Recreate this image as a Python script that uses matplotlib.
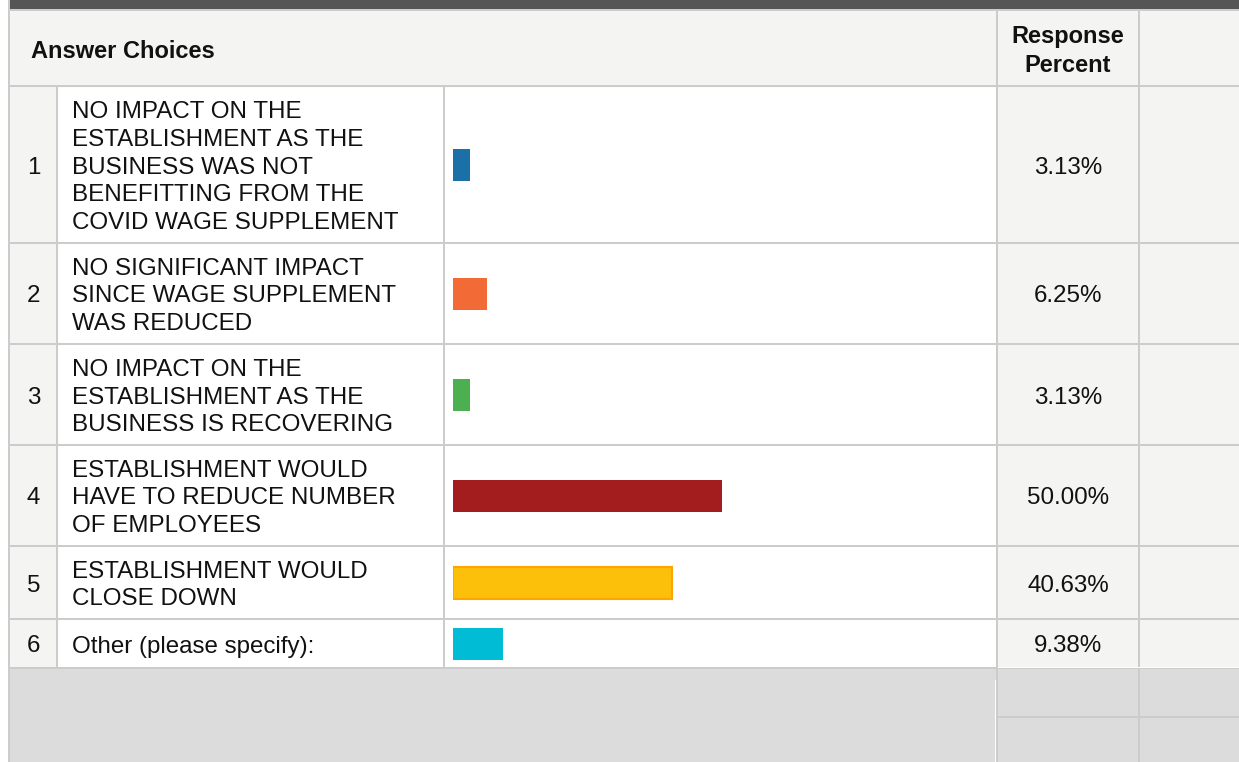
import matplotlib
matplotlib.use("Agg")
import matplotlib.pyplot as plt
from matplotlib.patches import Rectangle

choices = [
    "NO IMPACT ON THE\nESTABLISHMENT AS THE\nBUSINESS WAS NOT\nBENEFITTING FROM THE\nCOVID WAGE SUPPLEMENT",
    "NO SIGNIFICANT IMPACT\nSINCE WAGE SUPPLEMENT\nWAS REDUCED",
    "NO IMPACT ON THE\nESTABLISHMENT AS THE\nBUSINESS IS RECOVERING",
    "ESTABLISHMENT WOULD\nHAVE TO REDUCE NUMBER\nOF EMPLOYEES",
    "ESTABLISHMENT WOULD\nCLOSE DOWN",
    "Other (please specify):",
]
percents = [3.13, 6.25, 3.13, 50.00, 40.63, 9.38]
bar_colors = ["#1b70a7", "#f26b36", "#4caf50", "#a31c1e", "#fdc00a", "#00bcd4"]
bar_edges = ["none", "none", "none", "none", "#ffa500", "none"]

# table layout in pixels
W, H = 1239, 762
row_edges = [86, 243, 344, 445, 546, 619, 668]
col_num = (10, 57)
col_text = 57
col_bar = 444
col_pct = 997
col_last = 1139
grid = "#cccccc"
light = "#f4f4f3"
text_color = "#111111"
fs = 17.4
dy = 3  # nudge text down so caps sit centred
font = "Liberation Sans"

plt.rcParams["font.family"] = [font, "DejaVu Sans"]

fig = plt.figure(figsize=(W / 100, H / 100), dpi=100)
ax = fig.add_axes([0, 0, 1, 1])
ax.set_xlim(0, W)
ax.set_ylim(H, 0)
ax.axis("off")

lw = 2 * 72 / 100

# backgrounds
ax.add_patch(Rectangle((0, 0), W, H, color="white", zorder=0))
ax.add_patch(Rectangle((10, 0), W - 10, 10, color="#555555", zorder=1))
ax.add_patch(Rectangle((10, 10), W - 10, row_edges[0] - 10, color=light, zorder=1))
ax.add_patch(Rectangle((col_num[0], row_edges[0]), col_num[1] - col_num[0],
                       row_edges[-1] - row_edges[0], color=light, zorder=1))
ax.add_patch(Rectangle((col_pct, row_edges[0]), W - col_pct,
                       row_edges[-1] - row_edges[0], color=light, zorder=1))
ax.add_patch(Rectangle((10, row_edges[-1]), W - 10, H - row_edges[-1], color="#dcdcdc", zorder=1))

# grid lines
ax.plot([9, 9], [0, H], color=grid, lw=lw, zorder=3)
ax.plot([10, W], [10, 10], color=grid, lw=lw, zorder=3)
for y in row_edges:
    ax.plot([10, W], [y, y], color=grid, lw=lw, zorder=3)
for x in [col_num[1], col_bar]:
    ax.plot([x, x], [row_edges[0], row_edges[-1]], color=grid, lw=lw, zorder=3)
for x in [col_pct, col_last]:
    ax.plot([x, x], [10, H], color=grid, lw=lw, zorder=3)
ax.plot([col_pct, W], [717, 717], color=grid, lw=lw, zorder=3)
ax.plot([col_pct + 1, W], [666.5, 666.5], color="white", lw=0.7, zorder=3)
ax.plot([995, 995], [680, H], color="white", lw=0.7, zorder=3)

# header
ax.text(31, 48 + dy, "Answer Choices", fontsize=17, fontweight="bold",
        color=text_color, va="center", ha="left", zorder=4)
ax.text((col_pct + col_last) / 2, 48 + dy, "Response\nPercent", fontsize=17, fontweight="bold",
        color=text_color, va="center", ha="center", linespacing=1.3, zorder=4)

# rows
centers = [(row_edges[i] + row_edges[i + 1]) / 2 for i in range(len(choices))]
for i in range(len(choices)):
    yc = centers[i] + dy
    ax.text((col_num[0] + col_num[1]) / 2, yc, str(i + 1), fontsize=fs,
            color=text_color, va="center", ha="center", zorder=4)
    ax.text(72, yc, choices[i], fontsize=fs, color=text_color,
            va="center", ha="left", linespacing=1.33, zorder=4)
    ax.text((col_pct + col_last) / 2, yc, f"{percents[i]:.2f}%", fontsize=fs,
            color=text_color, va="center", ha="center", zorder=4)

# bars on their own percent scale
ax_bar = fig.add_axes([453 / W, 0, 538 / W, 1])
ax_bar.set_xlim(0, 100)
ax_bar.set_ylim(H, 0)
ax_bar.axis("off")
ax_bar.patch.set_alpha(0)
ax_bar.barh(centers, percents, height=32, color=bar_colors,
            edgecolor=bar_edges, linewidth=1.5, align="center")

fig.savefig("out.png", dpi=100)
